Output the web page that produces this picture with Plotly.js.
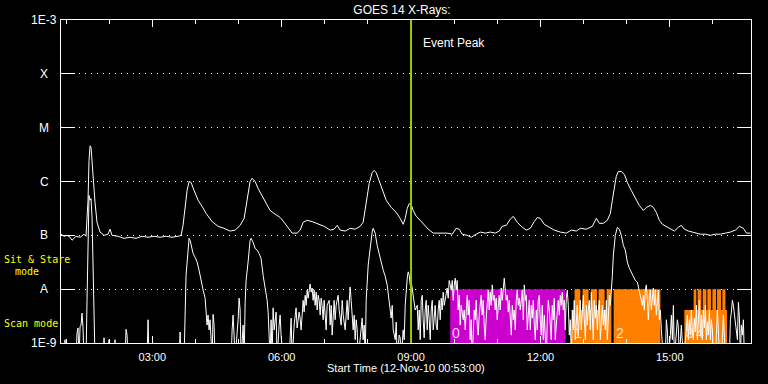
<!DOCTYPE html>
<html>
<head>
<meta charset="utf-8">
<script src="https://cdn.plot.ly/plotly-3.0.1.min.js"></script>
<style>html,body{margin:0;padding:0;background:#000;}#chart{width:768px;height:384px;}</style>
</head>
<body>
<div id="chart"></div>
<script>
// ---------------- DATA (time = minutes after 00:00 UT, 12-Nov-2010; flux in W/m^2) ----------------
const FLOOR = 5e-10; // below the plotted range (readings at/under 1E-9)

const longMin = [53.0,57.2,61.4,65.6,68.3,73.9,79.5,85.0,87.8,90.6,92.0,93.4,94.8,97.5,100.3,103.1,107.3,112.9,118.4,121.2,124.0,132.4,140.7,149.1,157.4,165.8,174.1,182.5,190.8,199.2,207.5,215.9,220.1,222.8,225.6,228.4,231.2,234.0,238.2,243.7,249.3,254.9,263.2,271.6,279.9,288.3,295.2,302.2,307.8,310.5,313.3,316.1,318.9,323.1,327.3,332.8,338.4,343.9,349.5,353.7,357.9,363.4,369.0,374.6,381.5,385.7,389.9,395.5,402.4,410.8,419.1,427.5,433.0,437.2,441.4,448.4,455.3,462.3,469.2,473.4,476.2,479.0,481.8,485.9,488.7,491.5,495.7,499.9,505.4,512.4,519.4,524.9,529.1,531.9,534.7,537.5,540.2,543.0,547.2,552.8,558.3,563.9,570.9,580.6,590.3,597.3,602.8,607.0,611.2,618.2,623.7,630.7,636.3,643.2,650.2,657.1,662.7,666.9,672.5,678.1,682.3,687.8,693.4,700.3,705.9,711.5,715.7,719.8,725.4,732.4,739.3,747.7,756.0,763.0,769.9,775.5,783.9,792.2,797.8,802.0,807.5,813.1,817.3,820.1,822.9,825.6,828.4,832.6,836.8,840.9,846.5,852.1,857.6,863.2,867.4,873.0,877.1,881.3,885.5,889.7,895.2,900.8,906.4,911.9,916.1,920.3,925.9,931.4,937.0,942.6,949.5,956.5,963.5,970.4,977.4,984.3,991.3,996.9,1002.4,1006.6,1012.2];
const longFlux = [1.05e-7,9.6e-8,1.0e-7,9.2e-8,8.1e-8,9.6e-8,9.2e-8,1.05e-7,9.6e-8,4.5e-7,2.45e-6,4.6e-6,4.3e-6,1.3e-6,4.1e-7,1.75e-7,1.15e-7,1.0e-7,1.05e-7,1.3e-7,1.0e-7,9.6e-8,8.8e-8,9.2e-8,8.8e-8,9.6e-8,9.2e-8,9.6e-8,9.2e-8,9.6e-8,9.2e-8,9.6e-8,1.0e-7,1.53e-7,3.6e-7,6.8e-7,1.0e-6,9.6e-7,6.8e-7,4.5e-7,3.45e-7,2.55e-7,1.8e-7,1.47e-7,1.35e-7,1.2e-7,1.25e-7,1.53e-7,2.07e-7,3.6e-7,6.8e-7,1.0e-6,1.15e-6,1.0e-6,7.4e-7,5.5e-7,3.9e-7,2.9e-7,2.55e-7,2.35e-7,2.15e-7,1.75e-7,1.35e-7,1.1e-7,1.1e-7,1.25e-7,1.75e-7,1.9e-7,1.8e-7,1.6e-7,1.47e-7,1.25e-7,1.3e-7,1.53e-7,1.25e-7,1.2e-7,1.35e-7,1.3e-7,1.47e-7,1.75e-7,2.9e-7,5.5e-7,9.2e-7,1.47e-6,1.6e-6,1.47e-6,1.04e-6,6.8e-7,4.5e-7,3.3e-7,2.67e-7,2.07e-7,1.6e-7,2.07e-7,3.16e-7,3.9e-7,3.75e-7,2.9e-7,2.25e-7,1.9e-7,1.6e-7,1.3e-7,1.1e-7,1.1e-7,1.1e-7,1.05e-7,1.35e-7,1.3e-7,1.05e-7,1.0e-7,9.2e-8,1.05e-7,1.15e-7,1.1e-7,1.15e-7,1.1e-7,1.2e-7,1.47e-7,1.53e-7,2.0e-7,2.25e-7,1.75e-7,1.47e-7,1.25e-7,1.35e-7,1.8e-7,2.15e-7,2.07e-7,1.6e-7,1.41e-7,1.25e-7,1.15e-7,1.1e-7,1.25e-7,1.2e-7,1.35e-7,1.3e-7,1.47e-7,2.07e-7,1.67e-7,1.67e-7,1.9e-7,2.55e-7,4.5e-7,8.4e-7,1.25e-6,1.53e-6,1.53e-6,1.35e-6,9.6e-7,6.8e-7,5.0e-7,3.6e-7,2.9e-7,3.3e-7,3.6e-7,3.3e-7,2.67e-7,1.9e-7,1.6e-7,1.47e-7,1.3e-7,1.2e-7,1.41e-7,1.53e-7,1.3e-7,1.2e-7,1.15e-7,1.1e-7,1.05e-7,1.05e-7,1.0e-7,1.05e-7,1.05e-7,1.1e-7,1.15e-7,1.25e-7,1.47e-7,1.35e-7,1.1e-7,1.1e-7];

const shortMin = [53.0,57.2,58.6,60.0,73.9,75.3,76.7,78.1,79.5,80.9,82.2,83.6,85.0,87.8,89.2,90.6,92.0,93.4,94.8,96.2,97.5,98.9,100.3,111.5,112.9,114.2,118.4,119.8,121.2,126.8,128.2,129.6,142.1,143.5,144.9,146.3,172.7,174.1,175.5,217.3,218.7,220.1,224.2,227.0,229.8,231.2,232.6,234.0,236.8,239.6,242.3,245.1,247.9,250.7,253.5,254.9,256.2,257.6,259.0,260.4,261.8,263.2,264.6,266.0,267.4,289.7,291.1,292.4,293.8,295.2,299.4,300.8,302.2,303.6,306.4,307.8,309.2,310.5,313.3,316.1,317.5,320.3,323.1,325.9,328.6,331.4,334.2,337.0,339.8,341.2,342.6,343.9,345.3,346.7,348.1,349.5,352.3,353.7,356.5,357.9,359.2,362.0,370.4,371.8,373.2,374.6,377.4,380.1,381.5,384.3,385.7,387.1,389.9,391.3,392.7,394.1,395.5,396.8,398.2,399.6,401.0,402.4,403.8,405.2,406.6,408.0,409.4,410.8,412.2,413.6,414.9,416.3,417.7,419.1,421.9,423.3,426.1,427.5,428.9,430.3,433.0,434.4,435.8,438.6,440.0,442.8,444.2,445.6,448.4,449.8,451.1,452.5,455.3,456.7,458.1,459.5,460.9,462.3,463.7,465.1,466.5,470.6,472.0,473.4,474.8,476.2,477.6,480.4,483.2,485.9,487.3,490.1,492.9,495.7,498.5,501.3,504.0,506.8,509.6,512.4,513.8,515.2,518.0,519.4,520.7,523.5,524.9,526.3,529.1,530.5,531.9,533.3,534.7,536.1,537.5,538.9,540.2,541.6,543.0,545.8,548.6,550.0,551.4,552.8,554.2,555.6,556.9,558.3,559.7,561.1,562.5,563.9,565.3,566.7,568.1,569.5,570.9,573.6,575.0,576.4,577.8,579.2,580.6,582.0,583.4,584.8,586.2,588.9,590.3,591.7,593.1,594.5,595.9,597.3,598.7,600.1,601.5,602.8,604.2,605.6,607.0,608.4,609.8,612.6,614.0,615.4,616.8,618.2,619.6,620.9,622.3,623.7,625.1,626.5,627.9,629.3,630.7,632.1,633.5,634.9,636.3,637.6,639.0,640.4,641.8,643.2,644.6,646.0,647.4,648.8,650.2,651.6,653.0,654.3,655.7,657.1,658.5,659.9,661.3,662.7,664.1,665.5,666.9,668.3,669.7,671.1,672.5,673.9,675.3,676.7,678.1,679.5,680.9,682.3,683.6,685.0,686.4,687.8,689.2,690.6,692.0,693.4,694.8,696.2,697.6,699.0,700.3,701.7,703.1,704.5,705.9,707.3,708.7,710.1,711.5,712.9,714.3,715.7,717.0,718.4,719.8,721.2,722.6,724.0,725.4,726.8,728.2,729.6,731.0,732.4,733.7,735.1,736.5,737.9,739.3,740.7,742.1,743.5,744.9,746.3,747.7,749.1,750.5,751.8,753.2,754.6,756.0,757.4,758.8,760.2,761.6,763.0,764.4,765.8,767.1,768.5,769.9,771.3,772.7,774.1,775.5,776.9,778.3,779.7,781.1,782.5,783.9,785.2,786.6,788.0,789.4,790.8,792.2,793.6,795.0,796.4,797.8,799.2,800.6,802.0,803.4,804.7,806.1,807.5,808.9,810.3,811.7,813.1,814.5,815.9,817.3,818.7,820.1,821.5,824.2,827.0,829.8,832.6,835.4,838.2,840.9,843.7,846.5,849.3,852.1,854.9,857.6,860.4,861.8,863.2,864.6,866.0,867.4,868.8,870.2,871.6,873.0,874.4,875.7,877.1,878.5,879.9,881.3,882.7,884.1,885.5,886.9,888.3,889.7,891.1,893.8,895.2,896.6,898.0,900.8,902.2,903.6,905.0,906.4,909.2,910.5,911.9,913.3,916.1,917.5,918.9,923.1,924.5,925.9,927.3,928.7,930.0,931.4,932.8,934.2,935.6,937.0,938.4,939.8,941.2,942.6,944.0,945.4,946.7,948.1,949.5,950.9,952.3,953.7,955.1,956.5,957.9,959.3,960.7,963.5,964.9,966.2,967.6,969.0,971.8,973.2,974.6,976.0,977.4,982.9,984.3,985.7,987.1,988.5,989.9,991.3,992.7,994.1,995.5,996.9,998.2,999.6,1001.0,1002.4,1003.8,1012.2];
const shortFlux = [FLOOR,FLOOR,1.15e-9,FLOOR,FLOOR,1.53e-9,1.9e-9,FLOOR,2.0e-9,2.15e-9,3.6e-9,2.0e-9,FLOOR,FLOOR,6.2e-9,8.1e-8,5.5e-7,4.5e-7,4.8e-7,2.1e-7,2.25e-8,2.7e-9,FLOOR,FLOOR,1.25e-9,FLOOR,FLOOR,1.15e-9,FLOOR,FLOOR,1.15e-9,FLOOR,FLOOR,1.8e-9,1.4e-9,FLOOR,FLOOR,2.7e-9,FLOOR,FLOOR,1.6e-9,FLOOR,FLOOR,1.8e-8,6.5e-8,8.8e-8,8.1e-8,6.5e-8,4.6e-8,3.9e-8,3.2e-8,2.25e-8,1.35e-8,9.6e-9,6.8e-9,4.1e-9,2.15e-9,3.3e-9,1.75e-9,2.7e-9,FLOOR,FLOOR,3.4e-9,2.15e-9,FLOOR,FLOOR,1.75e-9,3.3e-9,1.4e-9,FLOOR,2.7e-9,6.8e-9,4.1e-9,FLOOR,2.15e-9,FLOOR,5.7e-9,1.45e-8,3.2e-8,8.1e-8,8.8e-8,7.4e-8,5.7e-8,5.3e-8,4.6e-8,3.7e-8,1.8e-8,1.05e-8,6.2e-9,3.75e-9,1.75e-9,FLOOR,2.7e-9,FLOOR,4.5e-9,1.75e-9,3.75e-9,FLOOR,2.15e-9,3.3e-9,1.4e-9,FLOOR,FLOOR,1.75e-9,2.9e-9,FLOOR,2.15e-9,4.5e-9,1.9e-9,3.75e-9,2.9e-9,1.75e-9,6.2e-9,3.75e-9,7.7e-9,5.0e-9,9.6e-9,6.8e-9,1.05e-8,1.25e-8,8.8e-9,1.05e-8,6.2e-9,9.6e-9,5.0e-9,8.8e-9,4.1e-9,7.7e-9,6.2e-9,3.3e-9,6.8e-9,5.0e-9,2.7e-9,6.2e-9,1.75e-9,5.0e-9,6.2e-9,2.15e-9,5.0e-9,1.4e-9,6.2e-9,2.7e-9,5.0e-9,7.7e-9,4.1e-9,2.15e-9,6.2e-9,3.3e-9,1.75e-9,4.1e-9,6.2e-9,2.7e-9,1.1e-8,6.2e-9,3.75e-9,1.75e-9,3.3e-9,1.15e-9,2.7e-9,1.75e-9,FLOOR,1.75e-9,2.9e-9,1.15e-9,2.15e-9,FLOOR,6.2e-9,2.8e-8,6.5e-8,1.15e-7,1.35e-7,1.1e-7,6.5e-8,4.3e-8,3.2e-8,2.25e-8,1.75e-8,1.2e-8,6.2e-9,2.9e-9,5.0e-9,1.75e-9,1.15e-9,2.45e-9,FLOOR,1.4e-9,1.25e-9,FLOOR,1.75e-9,1.15e-9,5.0e-9,9.6e-9,1.6e-8,2.1e-8,1.8e-8,1.2e-8,1.35e-8,1.05e-8,7.7e-9,4.1e-9,5.0e-9,1.75e-9,4.1e-9,1.15e-9,6.2e-9,7.7e-9,2.7e-9,1.25e-9,4.1e-9,6.2e-9,1.75e-9,5.0e-9,2.7e-9,1.15e-9,4.1e-9,6.2e-9,1.75e-9,5.0e-9,2.15e-9,1.75e-9,4.1e-9,6.2e-9,2.7e-9,6.8e-9,4.1e-9,8.8e-9,5.0e-9,9.6e-9,1.05e-8,6.8e-9,1.45e-8,1.2e-8,9.6e-9,1.45e-8,6.2e-9,1.2e-8,1.6e-8,9.6e-9,1.45e-8,4.1e-9,7.7e-9,2.15e-9,5.0e-9,2.7e-9,4.1e-9,1.75e-9,5.0e-9,7.7e-9,3.3e-9,6.2e-9,1.15e-9,2.7e-9,FLOOR,1.75e-9,4.1e-9,2.7e-9,6.2e-9,2.15e-9,1.4e-9,3.3e-9,5.0e-9,7.7e-9,3.3e-9,6.2e-9,2.15e-9,1.15e-9,2.9e-9,6.2e-9,9.6e-9,4.1e-9,8.8e-9,5.0e-9,1.2e-8,6.2e-9,7.7e-9,4.1e-9,6.8e-9,2.7e-9,5.0e-9,7.7e-9,4.1e-9,1.05e-8,6.2e-9,1.2e-8,1.6e-8,9.6e-9,6.2e-9,7.7e-9,3.75e-9,6.2e-9,2.7e-9,1.4e-9,5.0e-9,2.7e-9,4.1e-9,1.75e-9,6.2e-9,9.6e-9,5.0e-9,6.8e-9,4.1e-9,6.2e-9,9.6e-9,2.7e-9,1.2e-8,6.2e-9,7.7e-9,1.75e-9,4.1e-9,6.2e-9,1.75e-9,5.0e-9,2.9e-9,6.2e-9,2.15e-9,1.15e-9,4.1e-9,1.75e-9,6.2e-9,7.7e-9,2.7e-9,1.4e-9,5.0e-9,1.15e-9,3.3e-9,1.75e-9,FLOOR,2.7e-9,6.2e-9,4.1e-9,1.9e-9,1.15e-9,5.0e-9,2.7e-9,6.8e-9,1.15e-9,2.15e-9,4.1e-9,6.2e-9,3.3e-9,7.7e-9,5.0e-9,8.8e-9,4.1e-9,6.2e-9,1.75e-9,6.8e-9,9.6e-9,5.0e-9,1.4e-9,2.7e-9,FLOOR,4.1e-9,1.75e-9,6.2e-9,1.15e-9,2.15e-9,5.0e-9,1.4e-9,3.3e-9,6.2e-9,1.75e-9,4.1e-9,7.7e-9,2.7e-9,1.15e-9,5.0e-9,2.15e-9,4.1e-9,6.2e-9,1.75e-9,8.8e-9,3.3e-9,1.15e-9,6.2e-9,2.9e-9,5.0e-9,1.75e-9,4.1e-9,6.2e-9,1.15e-9,3.3e-9,5.0e-9,2.15e-9,4.1e-9,1.75e-9,6.2e-9,1.15e-9,2.9e-9,7.7e-9,5.0e-9,8.8e-9,1.8e-8,4.3e-8,1.0e-7,1.4e-7,1.3e-7,1.0e-7,6.5e-8,5.3e-8,3.2e-8,2.45e-8,2.1e-8,1.75e-8,1.45e-8,1.35e-8,9.6e-9,6.2e-9,5.0e-9,7.7e-9,4.1e-9,9.6e-9,1.2e-8,6.2e-9,2.7e-9,7.7e-9,9.6e-9,4.1e-9,6.2e-9,1.05e-8,5.0e-9,9.6e-9,3.3e-9,6.2e-9,9.6e-9,2.7e-9,4.1e-9,1.75e-9,1.15e-9,FLOOR,FLOOR,2.7e-9,1.75e-9,FLOOR,1.4e-9,3.3e-9,1.15e-9,5.0e-9,FLOOR,1.75e-9,2.7e-9,2.0e-9,FLOOR,2.15e-9,1.25e-9,FLOOR,1.75e-9,3.3e-9,1.15e-9,2.7e-9,1.4e-9,4.1e-9,1.75e-9,1.15e-9,2.9e-9,1.6e-9,5.0e-9,1.15e-9,2.7e-9,6.2e-9,1.4e-9,3.3e-9,1.15e-9,4.1e-9,1.9e-9,5.0e-9,1.15e-9,2.45e-9,1.4e-9,4.1e-9,1.15e-9,2.7e-9,1.75e-9,FLOOR,FLOOR,2.7e-9,4.1e-9,1.75e-9,FLOOR,FLOOR,1.75e-9,3.3e-9,1.25e-9,FLOOR,FLOOR,2.7e-9,3.75e-9,6.2e-9,5.0e-9,3.3e-9,2.7e-9,1.75e-9,1.15e-9,5.7e-9,2.9e-9,FLOOR,2.15e-9,1.4e-9,2.7e-9,FLOOR,FLOOR];

// observing-mode intervals (minutes of day) and their level
const sitStareStart = [594.5];
const sitStareEnd   = [754.6];
const sitStareTop   = [1e-8];
const orangeStart = [763.9,767.5,778.7,790.4,800.9,812.1,821.9,920.3,933.2,938.7,945.8,952.3,959.3,965.8,973.2];
const orangeEnd   = [818.7,775.5,787.0,798.7,809.3,818.7,886.9,979.7,936.9,943.9,950.9,957.5,964.4,971.4,977.4];
const orangeTop   = [4.1e-9,1e-8,1e-8,1e-8,1e-8,1e-8,1e-8,4.1e-9,1e-8,1e-8,1e-8,1e-8,1e-8,1e-8,1e-8];
const segLabels    = ['0','1','2','3','4'];
const segLabelMin  = [594.5,763.9,821.9,920.3,933.2];
const segLabelColor= ['#ffd8ff','#ffe4c8','#ffe4c8','#ffe4c8','#ffe4c8'];

const eventPeakMin = 540;
const yTickVals = [1e-9,1e-8,1e-7,1e-6,1e-5,1e-4,1e-3];
const yTickText = ['1E-9','A','B','C','M','X','1E-3'];
const startMin = 53, endMin = 1013;

// ---------------- helpers ----------------
function pad(n){return (n<10?'0':'')+n;}
function toDate(m){
  const s = Math.round(m*60);
  const H = Math.floor(s/3600), M = Math.floor((s%3600)/60), S = s%60;
  return '2010-11-12 '+pad(H)+':'+pad(M)+':'+pad(S);
}
function rects(st, en, top, bottom){
  const x=[], y=[];
  for(let i=0;i<st.length;i++){
    const a=toDate(st[i]), b=toDate(en[i]);
    x.push(a,a,b,b,a,null);
    y.push(bottom,top[i],top[i],bottom,bottom,null);
  }
  return {x,y};
}
// plot area in pixels
const L=61, R=17, T=20, B=41, W=768-L-R, H=384-T-B;
const px = x => (x-L)/W;
const py = y => (384-B-y)/H;

const sansFont = 'Liberation Sans, Arial, sans-serif';
const monoFont = 'DejaVu Sans Mono, Liberation Mono, monospace';

const mag = rects(sitStareStart, sitStareEnd, sitStareTop, 1e-9);
const ora = rects(orangeStart, orangeEnd, orangeTop, 1e-9);

const traces = [
  {x: mag.x, y: mag.y, type:'scatter', mode:'lines', fill:'toself', fillcolor:'rgb(204,0,204)',
   line:{width:0, color:'rgb(204,0,204)'}, hoverinfo:'skip', showlegend:false},
  {x: ora.x, y: ora.y, type:'scatter', mode:'lines', fill:'toself', fillcolor:'rgb(255,128,0)',
   line:{width:0, color:'rgb(255,128,0)'}, hoverinfo:'skip', showlegend:false},
  {x: longMin.map(toDate), y: longFlux, type:'scatter', mode:'lines',
   line:{color:'#ffffff', width:1}, name:'1-8 A', showlegend:false},
  {x: shortMin.map(toDate), y: shortFlux, type:'scatter', mode:'lines',
   line:{color:'#ffffff', width:1}, name:'0.5-4 A', showlegend:false}
];

const annotations = [];
yTickVals.forEach((v,i)=>annotations.push({
  xref:'paper', x:px(44), xanchor:'center', yref:'y', y:Math.log10(v), yanchor:'middle',
  text:yTickText[i], showarrow:false, font:{family:sansFont, size:12, color:'#ffffff'}
}));
annotations.push({xref:'paper', x:px(1.5), xanchor:'left', yref:'paper', y:py(259), yanchor:'middle',
  text:'Sit &amp; Stare', showarrow:false, font:{family:monoFont, size:10, color:'#ffff00'}});
annotations.push({xref:'paper', x:px(12.5), xanchor:'left', yref:'paper', y:py(271), yanchor:'middle',
  text:'mode', showarrow:false, font:{family:monoFont, size:10, color:'#ffff00'}});
annotations.push({xref:'paper', x:px(1.5), xanchor:'left', yref:'paper', y:py(323.5), yanchor:'middle',
  text:'Scan mode', showarrow:false, font:{family:monoFont, size:10, color:'#ffff00'}});
annotations.push({xref:'x', x:toDate(eventPeakMin), xanchor:'left', xshift:10, yref:'paper', y:py(43), yanchor:'middle',
  text:'Event Peak', showarrow:false, font:{family:sansFont, size:12, color:'#ffffff'}});
annotations.push({xref:'paper', x:0.5, xanchor:'center', yref:'paper', y:py(368), yanchor:'middle',
  text:'Start Time (12-Nov-10 00:53:00)', showarrow:false, font:{family:sansFont, size:11, color:'#ffffff'}});
segLabels.forEach((t,i)=>annotations.push({xref:'x', x:toDate(segLabelMin[i]), xanchor:'left', xshift:0,
  yref:'paper', y:py(333), yanchor:'middle', text:t, showarrow:false,
  font:{family:sansFont, size:14, color:segLabelColor[i]}}));

const layout = {
  width:768, height:384,
  margin:{l:L, r:R, t:T, b:B, pad:0},
  paper_bgcolor:'#000000', plot_bgcolor:'#000000',
  showlegend:false,
  title:{text:'GOES 14 X-Rays:', font:{family:sansFont, size:12, color:'#ffffff'},
         xref:'paper', x:px(402), xanchor:'center', yref:'container', y:1-9.5/384, yanchor:'middle'},
  xaxis:{type:'date', range:[toDate(startMin), toDate(endMin)],
         tick0:'2010-11-12 00:00:00', dtick:3*3600000, tickformat:'%H:%M',
         ticks:'inside', ticklen:7, tickcolor:'#ffffff', tickwidth:1,
         minor:{tick0:'2010-11-12 00:00:00', dtick:3600000, ticks:'inside', ticklen:4, tickcolor:'#ffffff', showgrid:false},
         showline:true, linecolor:'#ffffff', linewidth:1, mirror:'ticks',
         showgrid:false, zeroline:false,
         tickfont:{family:sansFont, size:11, color:'#ffffff'}, ticklabelstandoff:4},
  yaxis:{type:'log', range:[-9,-3], tickvals:yTickVals, ticktext:yTickText, showticklabels:false,
         ticks:'inside', ticklen:14, tickcolor:'#ffffff', tickwidth:1,
         showline:true, linecolor:'#ffffff', linewidth:1, mirror:'ticks',
         showgrid:true, gridcolor:'#ffffff', gridwidth:1, griddash:'1px,5px', zeroline:false},
  shapes:[{type:'line', xref:'x', x0:toDate(eventPeakMin), x1:toDate(eventPeakMin),
           yref:'paper', y0:0, y1:1, line:{color:'rgb(154,205,0)', width:2}, layer:'above'}],
  annotations:annotations
};

Plotly.newPlot('chart', traces, layout, {displayModeBar:false, staticPlot:true});
</script>
</body>
</html>
